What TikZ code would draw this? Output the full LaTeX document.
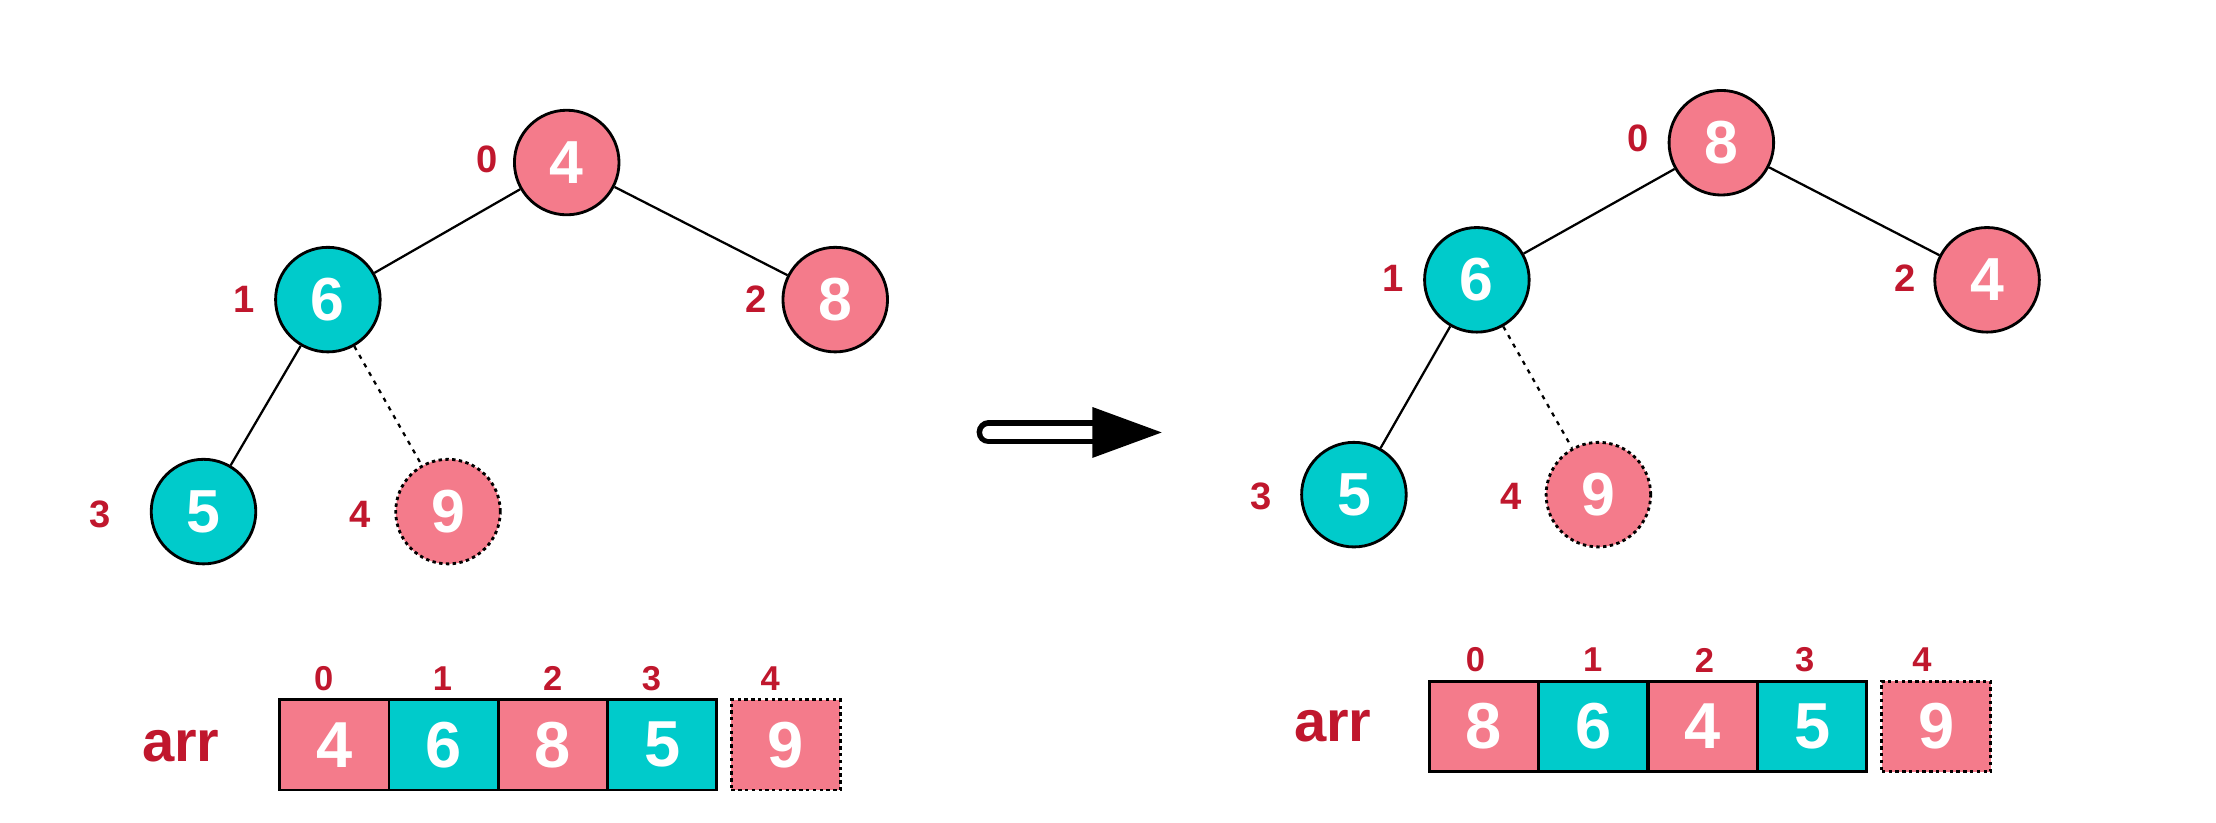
\documentclass[tikz,border=0pt]{standalone}
\usepackage{fontspec}
\setmainfont{Liberation Sans}
\usepackage{tikz}
\usepackage{xcolor}

\definecolor{heappink}{HTML}{F47B8B}
\definecolor{heapcyan}{HTML}{00CBCB}
\definecolor{idxred}{HTML}{C0172D}

\tikzset{
  keynode/.style={circle,draw,line width=1pt,minimum size=37pt,inner sep=0pt,
    text=white,font=\fontsize{21.5}{22}\selectfont\bfseries},
  pinknode/.style={keynode,fill=heappink},
  cyannode/.style={keynode,fill=heapcyan},
  newnode/.style={pinknode,dash pattern=on 1.2pt off 1.2pt},
  idx/.style={text=idxred,font=\fontsize{13.5}{14}\selectfont\bfseries},
  arridx/.style={text=idxred,font=\fontsize{12.2}{13}\selectfont\bfseries},
  cell/.style={draw,line width=1pt,minimum width=38.6pt,minimum height=32pt,inner sep=0pt,
    text=white,font=\fontsize{23}{24}\selectfont\bfseries},
  edge/.style={line width=0.8pt},
}

\begin{document}
\begin{tikzpicture}[x=0.5pt,y=-0.5pt]
  \useasboundingbox (0,0) rectangle (1568,582);
  % before
  \node[pinknode] (a0) at (401,115) {4};
  \node[cyannode] (a1) at (232,212) {6};
  \node[pinknode] (a2) at (591,212) {8};
  \node[cyannode] (a3) at (144,362) {5};
  \node[newnode]  (a4) at (317,362) {9};
  \draw[edge] (a0)--(a1);
  \draw[edge] (a0)--(a2);
  \draw[edge] (a1)--(a3);
  \draw[edge,dash pattern=on 1.5pt off 2pt] (a1)--(a4);
  \node[idx] at (345,113) {0};
  \node[idx] at (173,212) {1};
  \node[idx] at (535,212) {2};
  \node[idx] at (71,364) {3};
  \node[idx] at (255,364) {4};
  \node[text=idxred,font=\fontsize{20.5}{21}\selectfont\bfseries] (aname) at (128,528) {arr};
  \node[cell,fill=heappink] (ac0) at (236.6,527) {4};
  \node[cell,fill=heapcyan] (ac1) at (313.9,527) {6};
  \node[cell,fill=heappink] (ac2) at (391.2,527) {8};
  \node[cell,fill=heapcyan] (ac3) at (468.5,527) {5};
  \node[cell,fill=heappink,dash pattern=on 1.2pt off 1.2pt,minimum width=38.5pt] (ac4) at (556,527) {9};
  \node[arridx] at (229,480) {0};
  \node[arridx] at (313,480) {1};
  \node[arridx] at (391,480) {2};
  \node[arridx] at (461,480) {3};
  \node[arridx] at (545,480) {4};
  % arrow
  \coordinate (go) at (699.5,306);
  \coordinate (tip) at (822,306);
  \draw[line width=8.5pt,line cap=round] (go)--(776,306);
  \draw[white,line width=4.5pt,line cap=round] (go)--(776,306);
  \fill (773,288)--(tip)--(773,324)--cycle;
  % after
  \node[pinknode] (b0) at (1218,101) {8};
  \node[cyannode] (b1) at (1045,198) {6};
  \node[pinknode] (b2) at (1406,198) {4};
  \node[cyannode] (b3) at (958,350) {5};
  \node[newnode]  (b4) at (1131,350) {9};
  \draw[edge] (b0)--(b1);
  \draw[edge] (b0)--(b2);
  \draw[edge] (b1)--(b3);
  \draw[edge,dash pattern=on 1.5pt off 2pt] (b1)--(b4);
  \node[idx] at (1159,98) {0};
  \node[idx] at (986,197) {1};
  \node[idx] at (1348,197) {2};
  \node[idx] at (892,351) {3};
  \node[idx] at (1069,351) {4};
  \node[text=idxred,font=\fontsize{20.5}{21}\selectfont\bfseries] (bname) at (943,514) {arr};
  \node[cell,fill=heappink] (bc0) at (1049.8,514) {8};
  \node[cell,fill=heapcyan] (bc1) at (1127.3,514) {6};
  \node[cell,fill=heappink] (bc2) at (1204.8,514) {4};
  \node[cell,fill=heapcyan] (bc3) at (1282.3,514) {5};
  \node[cell,fill=heappink,dash pattern=on 1.2pt off 1.2pt,minimum width=38.5pt] (bc4) at (1370,514) {9};
  \node[arridx] at (1044,467) {0};
  \node[arridx] at (1127,467) {1};
  \node[arridx] at (1206,467) {2};
  \node[arridx] at (1277,467) {3};
  \node[arridx] at (1360,467) {4};
\end{tikzpicture}
\end{document}
